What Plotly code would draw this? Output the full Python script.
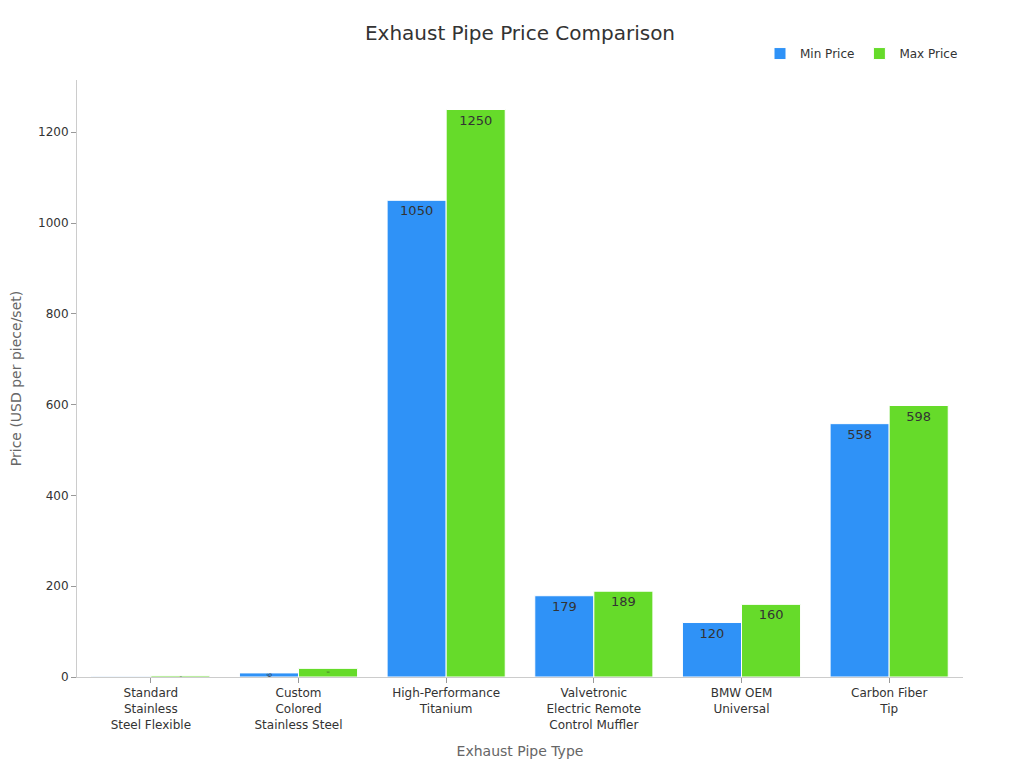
import plotly.graph_objects as go

categories = ["Standard<br>Stainless<br>Steel Flexible", "Custom<br>Colored<br>Stainless Steel",
              "High-Performance<br>Titanium", "Valvetronic<br>Electric Remote<br>Control Muffler",
              "BMW OEM<br>Universal", "Carbon Fiber<br>Tip"]
min_price = [1.5, 9, 1050, 179, 120, 558]
max_price = [3, 19, 1250, 189, 160, 598]

fig = go.Figure()
fig.add_bar(x=categories, y=min_price, name="Min Price", marker=dict(color="#2f92f7", line=dict(color="white", width=1)),
            text=min_price, textposition="inside", insidetextanchor="end",
            textfont=dict(color="#333", size=13))
fig.add_bar(x=categories, y=max_price, name="Max Price", marker=dict(color="#66db2a", line=dict(color="white", width=1)),
            text=max_price, textposition="inside", insidetextanchor="end",
            textfont=dict(color="#333", size=13))
fig.update_layout(
    width=1024, height=768, template="plotly_white", barmode="group", bargap=0.2, bargroupgap=0,
    font=dict(family="DejaVu Sans", color="#333", size=12),
    title=dict(text="Exhaust Pipe Price Comparison", x=0.5, xanchor="center", y=0.967, yanchor="middle", font=dict(size=20)),
    legend=dict(orientation="h", x=1, xanchor="right", y=1.02, yanchor="bottom"),
    margin=dict(l=69, r=69, t=72, b=99),
    xaxis=dict(automargin=False, title=dict(text="Exhaust Pipe Type", font=dict(color="#666", size=14)), showline=True, linecolor="#ccc", ticks="outside", tickcolor="#999", showgrid=False),
    yaxis=dict(automargin=False, title=dict(text="Price (USD per piece/set)", font=dict(color="#666", size=14)), showline=True, linecolor="#ccc", showgrid=False, zeroline=False, ticks="outside", tickcolor="#999", range=[0, 1315]),
)
fig.write_html("out.html")
